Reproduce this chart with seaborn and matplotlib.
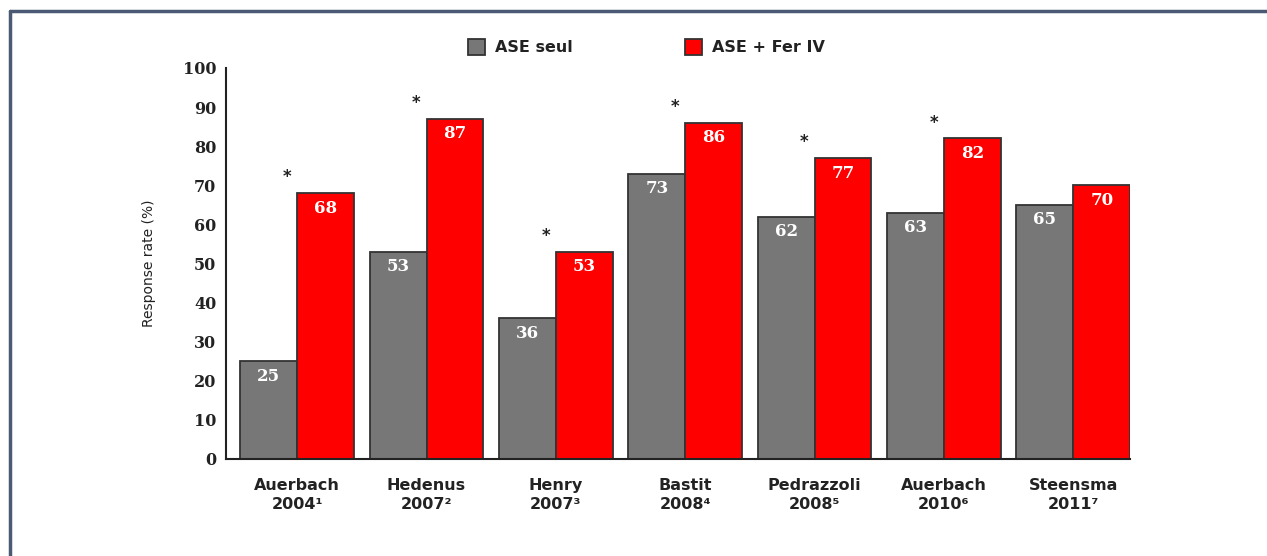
import matplotlib
matplotlib.use("Agg")
import matplotlib.pyplot as plt
from matplotlib.lines import Line2D
import seaborn as sns
import pandas as pd

# Study labels (with reference superscripts)
studies = ["Auerbach\n2004¹", "Hedenus\n2007²", "Henry\n2007³", "Bastit\n2008⁴",
           "Pedrazzoli\n2008⁵", "Auerbach\n2010⁶", "Steensma\n2011⁷"]
ase_seul = [25, 53, 36, 73, 62, 63, 65]
ase_fer = [68, 87, 53, 86, 77, 82, 70]
significant = [True, True, True, True, True, True, False]
series_names = ["ASE seul", "ASE + Fer IV"]
yticks = list(range(0, 101, 10))

df = pd.DataFrame({
    "study": studies * 2,
    "rate": ase_seul + ase_fer,
    "group": [series_names[0]] * len(studies) + [series_names[1]] * len(studies),
})

sns.set_style("white")
fig = plt.figure(figsize=(12.67, 5.56), dpi=100)
ax = fig.add_axes([0.1784, 0.1745, 0.7136, 0.7032])

sns.barplot(data=df, x="study", y="rate", hue="group", order=studies,
            hue_order=series_names, palette=["#777777", "#ff0000"], saturation=1,
            width=0.88, edgecolor="#333333", linewidth=1.3, ax=ax)

ax.set_ylim(0, 100)
ax.set_xlim(-0.55, 6.44)
ax.set_yticks(yticks)
ax.set_yticklabels([str(t) for t in yticks], fontfamily="DejaVu Serif",
                   fontweight="bold", fontsize=11.5, color="#222222")
ax.set_xticks(range(len(studies)))
ax.set_xticklabels(studies, fontfamily="DejaVu Sans", fontweight="bold",
                   fontsize=11.5, color="#222222", linespacing=1.3)
ax.tick_params(axis="y", direction="out", length=4, width=1.2, color="#222222", pad=3)
ax.tick_params(axis="x", length=0, pad=14)
ax.set_xlabel("")
ax.set_ylabel("Response rate (%)", fontsize=10, color="#222222", labelpad=19)

for side in ["top", "right"]:
    ax.spines[side].set_visible(False)
for side in ["left", "bottom"]:
    ax.spines[side].set_color("#222222")
    ax.spines[side].set_linewidth(1.5)

# Values written inside the top of each bar
for cont in ax.containers:
    ax.bar_label(cont, labels=[str(int(v)) for v in cont.datavalues],
                 label_type="edge", padding=-17, color="white",
                 fontfamily="DejaVu Serif", fontweight="bold", fontsize=12)

# Significance markers
for i, (v, sig) in enumerate(zip(ase_fer, significant)):
    if sig:
        ax.text(i - 0.08, v + 4, "*", ha="center", va="center",
                fontsize=12, fontweight="bold", color="#222222")

# Legend across the top
sns.move_legend(ax, "center", bbox_to_anchor=(0.51, 0.915),
                bbox_transform=fig.transFigure, ncol=2, frameon=False, title=None,
                columnspacing=7.0, handlelength=1.1, handleheight=1.1,
                handletextpad=0.6, prop={"weight": "bold", "size": 11.5})
for t in ax.get_legend().get_texts():
    t.set_color("#222222")

# Page frame (top and left edges)
frame_color = "#4b5a74"
fig.add_artist(Line2D([0.0079, 1.0], [0.980, 0.980], transform=fig.transFigure,
                      color=frame_color, linewidth=2.5))
fig.add_artist(Line2D([0.0079, 0.0079], [0.0, 0.980], transform=fig.transFigure,
                      color=frame_color, linewidth=2.5))

fig.savefig("out.png", dpi=100, facecolor="white")
